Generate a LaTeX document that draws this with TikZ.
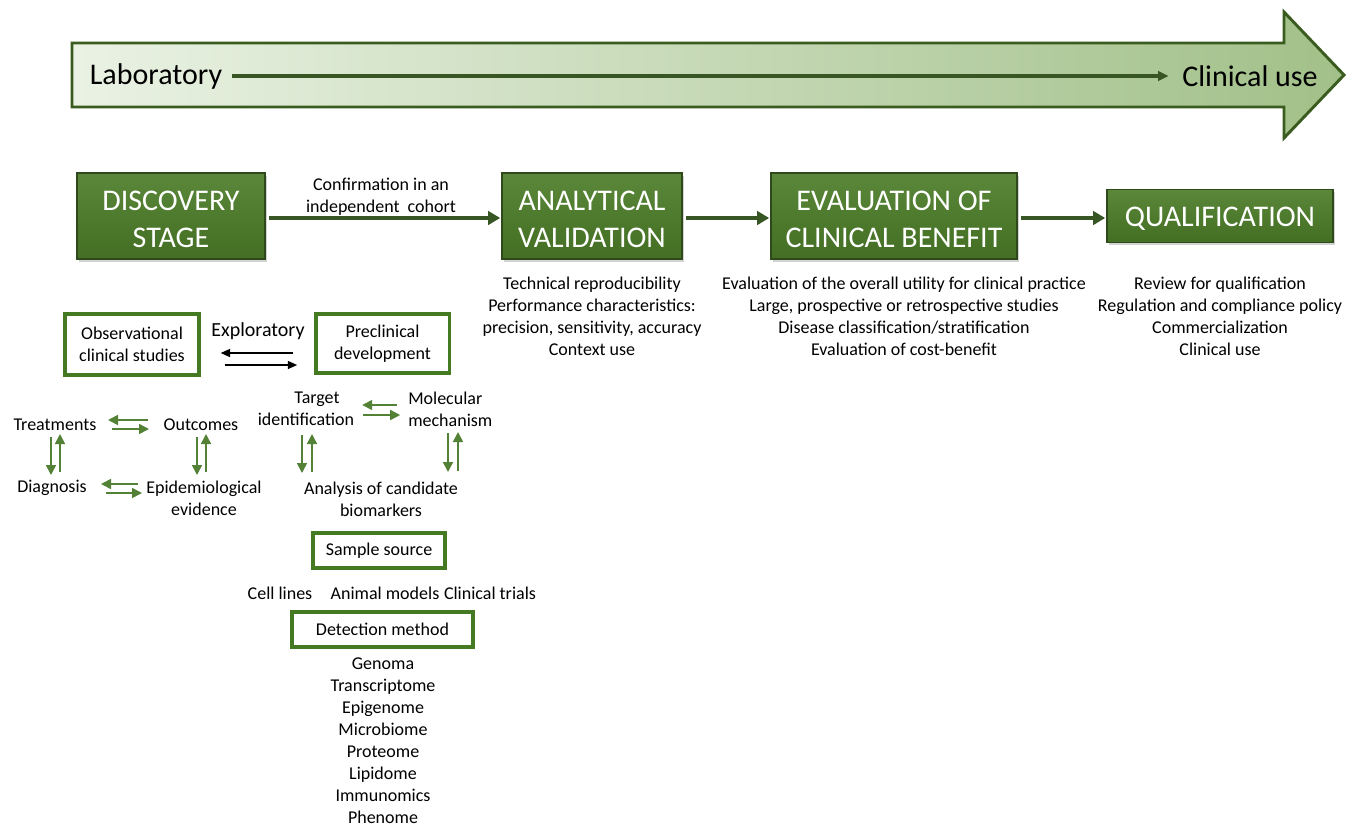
\documentclass[tikz,border=0pt]{standalone}
\usepackage{fontspec}
\setmainfont{Carlito}
\usetikzlibrary{arrows.meta,shadows,calc}
\definecolor{dkgreen}{HTML}{375623}
\definecolor{boxgreen}{HTML}{4C7D28}
\definecolor{boxedge}{HTML}{2F4A1A}
\definecolor{olgreen}{HTML}{437A22}
\definecolor{smgreen}{HTML}{538135}
\definecolor{arrowL}{HTML}{EAF2E4}
\definecolor{arrowR}{HTML}{A2C089}
\definecolor{arrowedge}{HTML}{3A5C1F}
\begin{document}
\begin{tikzpicture}[x=0.75pt,y=-0.75pt,
  stagebox/.style={draw=boxedge,line width=1.2pt,top color=boxgreen!92!white,bottom color=boxgreen!88!black,inner sep=0pt,
    drop shadow={opacity=0.35,shadow xshift=1.5pt,shadow yshift=-2pt}},
  stagetext/.style={text=white,font=\fontsize{22.5}{27.75}\selectfont,align=center,inner sep=0pt},
  obox/.style={draw=olgreen,line width=2.5pt,fill=white,
    font=\fontsize{13.5}{16.5}\selectfont,align=center,inner sep=0pt},
  txt/.style={font=\fontsize{13.5}{16.5}\selectfont,align=center,inner sep=0pt},
  big/.style={font=\fontsize{22.5}{27}\selectfont,inner sep=0pt},
  main/.style={draw=dkgreen,line width=3pt,-{Triangle[length=9pt,width=10pt]}},
  sm/.style={draw=smgreen,line width=1.2pt,-{Triangle[length=7.5pt,width=7.5pt]}},
  bk/.style={draw=black,line width=1pt,-{Triangle[length=7pt,width=6pt]}}]
\useasboundingbox (0,0) rectangle (1352,826);

% big timeline arrow
\draw[draw=arrowedge,line width=2.2pt,line join=miter,left color=arrowL,right color=arrowR]
  (72,43) -- (1284,43) -- (1284,12) -- (1344,75) -- (1284,138) -- (1284,107) -- (72,107) -- cycle;
\node[big,inner xsep=7pt] (lab) at (156,76) {Laboratory};
\node[big,inner xsep=10pt] (clin) at (1250,76) {Clinical use};
\draw[draw=dkgreen,line width=3pt,-{Triangle[length=8pt,width=7pt]}] (lab.east) -- (clin.west);

% stage boxes
\node[stagebox,minimum width=141pt,minimum height=64.5pt] (disc) at (171,216) {};
\node[stagebox,minimum width=135pt,minimum height=64.5pt] (anal) at (592,216) {};
\node[stagebox,minimum width=184.5pt,minimum height=64.5pt] (eval) at (894,216) {};
\node[stagebox,minimum width=169.5pt,minimum height=39.75pt] (qual) at (1220,216) {};
\node[stagetext] (disct) at ($(disc)+(0,3)$) {DISCOVERY\\STAGE};
\node[stagetext] (analt) at ($(anal)+(0,3)$) {ANALYTICAL\\VALIDATION};
\node[stagetext] (evalt) at ($(eval)+(0,3)$) {EVALUATION OF\\CLINICAL BENEFIT};
\node[stagetext] (qualt) at ($(qual)+(0,3)$) {QUALIFICATION};

\draw[main] ($(disc.east)+(3,2)$) -- ($(anal.west)+(-1,2)$);
\draw[main] ($(anal.east)+(3,2)$) -- ($(eval.west)+(-1,2)$);
\draw[main] ($(eval.east)+(3,2)$) -- ($(qual.west)+(-1,2)$);
\node[txt] (conf) at (381,197) {Confirmation in an\\independent~~cohort};

% descriptions
\node[txt] (analtxt) at (592,316) {Technical reproducibility\\Performance characteristics:\\precision, sensitivity, accuracy\\Context use};
\node[txt] (evaltxt) at (904,316) {Evaluation of the overall utility for clinical practice\\Large, prospective or retrospective studies\\Disease classification/stratification\\Evaluation of cost-benefit};
\node[txt] (qualtxt) at (1220,316) {Review for qualification\\Regulation and compliance policy\\Commercialization\\Clinical use};

% discovery sub-diagram
\node[obox,minimum width=100.5pt,minimum height=45.75pt] (obs) at (132,344.5) {Observational\\clinical studies};
\node[obox,minimum width=100pt,minimum height=44.25pt] (pre) at (382.5,343.5) {Preclinical\\development};
\node[font=\fontsize{15}{18}\selectfont,inner sep=0pt] (expl) at (258,331) {Exploratory};
\draw[bk] ($(pre.west)+(-21,9.5)$) -- ($(obs.east)+(20,8.5)$);
\draw[bk] ($(obs.east)+(24,20.5)$) -- ($(pre.west)+(-17,21.5)$);

\node[txt] (tr) at (55,425) {Treatments};
\node[txt] (out) at (201,425) {Outcomes};
\node[txt] (diag) at (52,488) {Diagnosis};
\node[txt] (epi) at (204,498) {Epidemiological\\evidence};
\node[txt] (tgt) at (306,409) {\hspace*{16.5pt}Target\\identification};
\node[txt,align=left,anchor=west] (mol) at (408,409) {Molecular\\mechanism};
\node[txt] (ana) at (381,499) {Analysis of candidate\\biomarkers};

% horizontal pairs
\coordinate (m1) at ($(tr)!0.5!(out)$);
\draw[sm] ($(m1)+(19.5,-5)$) -- ($(m1)+(-20,-5)$);
\draw[sm] ($(m1)+(-16,4)$) -- ($(m1)+(21,4)$);
\coordinate (m2) at ($(diag)!0.5!(epi |- diag)$);
\draw[sm] ($(m2)+(10,-4)$) -- ($(m2)+(-27,-4)$);
\draw[sm] ($(m2)+(-22,5)$) -- ($(m2)+(14,5)$);
\coordinate (m3) at ($(tgt.east)!0.5!(mol.west)$);
\draw[sm] ($(m3)+(16,-4)$) -- ($(m3)+(-19,-4)$);
\draw[sm] ($(m3)+(-18,6)$) -- ($(m3)+(19,6)$);

% vertical pairs
\draw[sm] ($(tr)+(-4,12)$) -- ($(tr)+(-4,50)$);
\draw[sm] ($(tr)+(5,47)$) -- ($(tr)+(5,9)$);
\draw[sm] ($(out)+(-4,12)$) -- ($(out)+(-4,50)$);
\draw[sm] ($(out)+(5,47)$) -- ($(out)+(5,9)$);
\draw[sm] ($(tgt)+(-4,26)$) -- ($(tgt)+(-4,64)$);
\draw[sm] ($(tgt)+(6,63)$) -- ($(tgt)+(6,25)$);
\draw[sm] ($(mol.west)+(40,24)$) -- ($(mol.west)+(40,63)$);
\draw[sm] ($(mol.west)+(50,62)$) -- ($(mol.west)+(50,23)$);

% sample source / detection
\node[obox,minimum width=99pt,minimum height=26.25pt] (samp) at (379,550.5) {Sample source};
\node[txt] (cell) at (280,593) {Cell lines};
\node[txt] (anim) at (385,593) {Animal models};
\node[txt] (clintr) at (490,593) {Clinical trials};
\node[obox,minimum width=135.75pt,minimum height=26.25pt] (det) at (382.5,629.5) {Detection method};
\node[txt] (omics) at (383,741) {Genoma\\Transcriptome\\Epigenome\\Microbiome\\Proteome\\Lipidome\\Immunomics\\Phenome};
\end{tikzpicture}
\end{document}
